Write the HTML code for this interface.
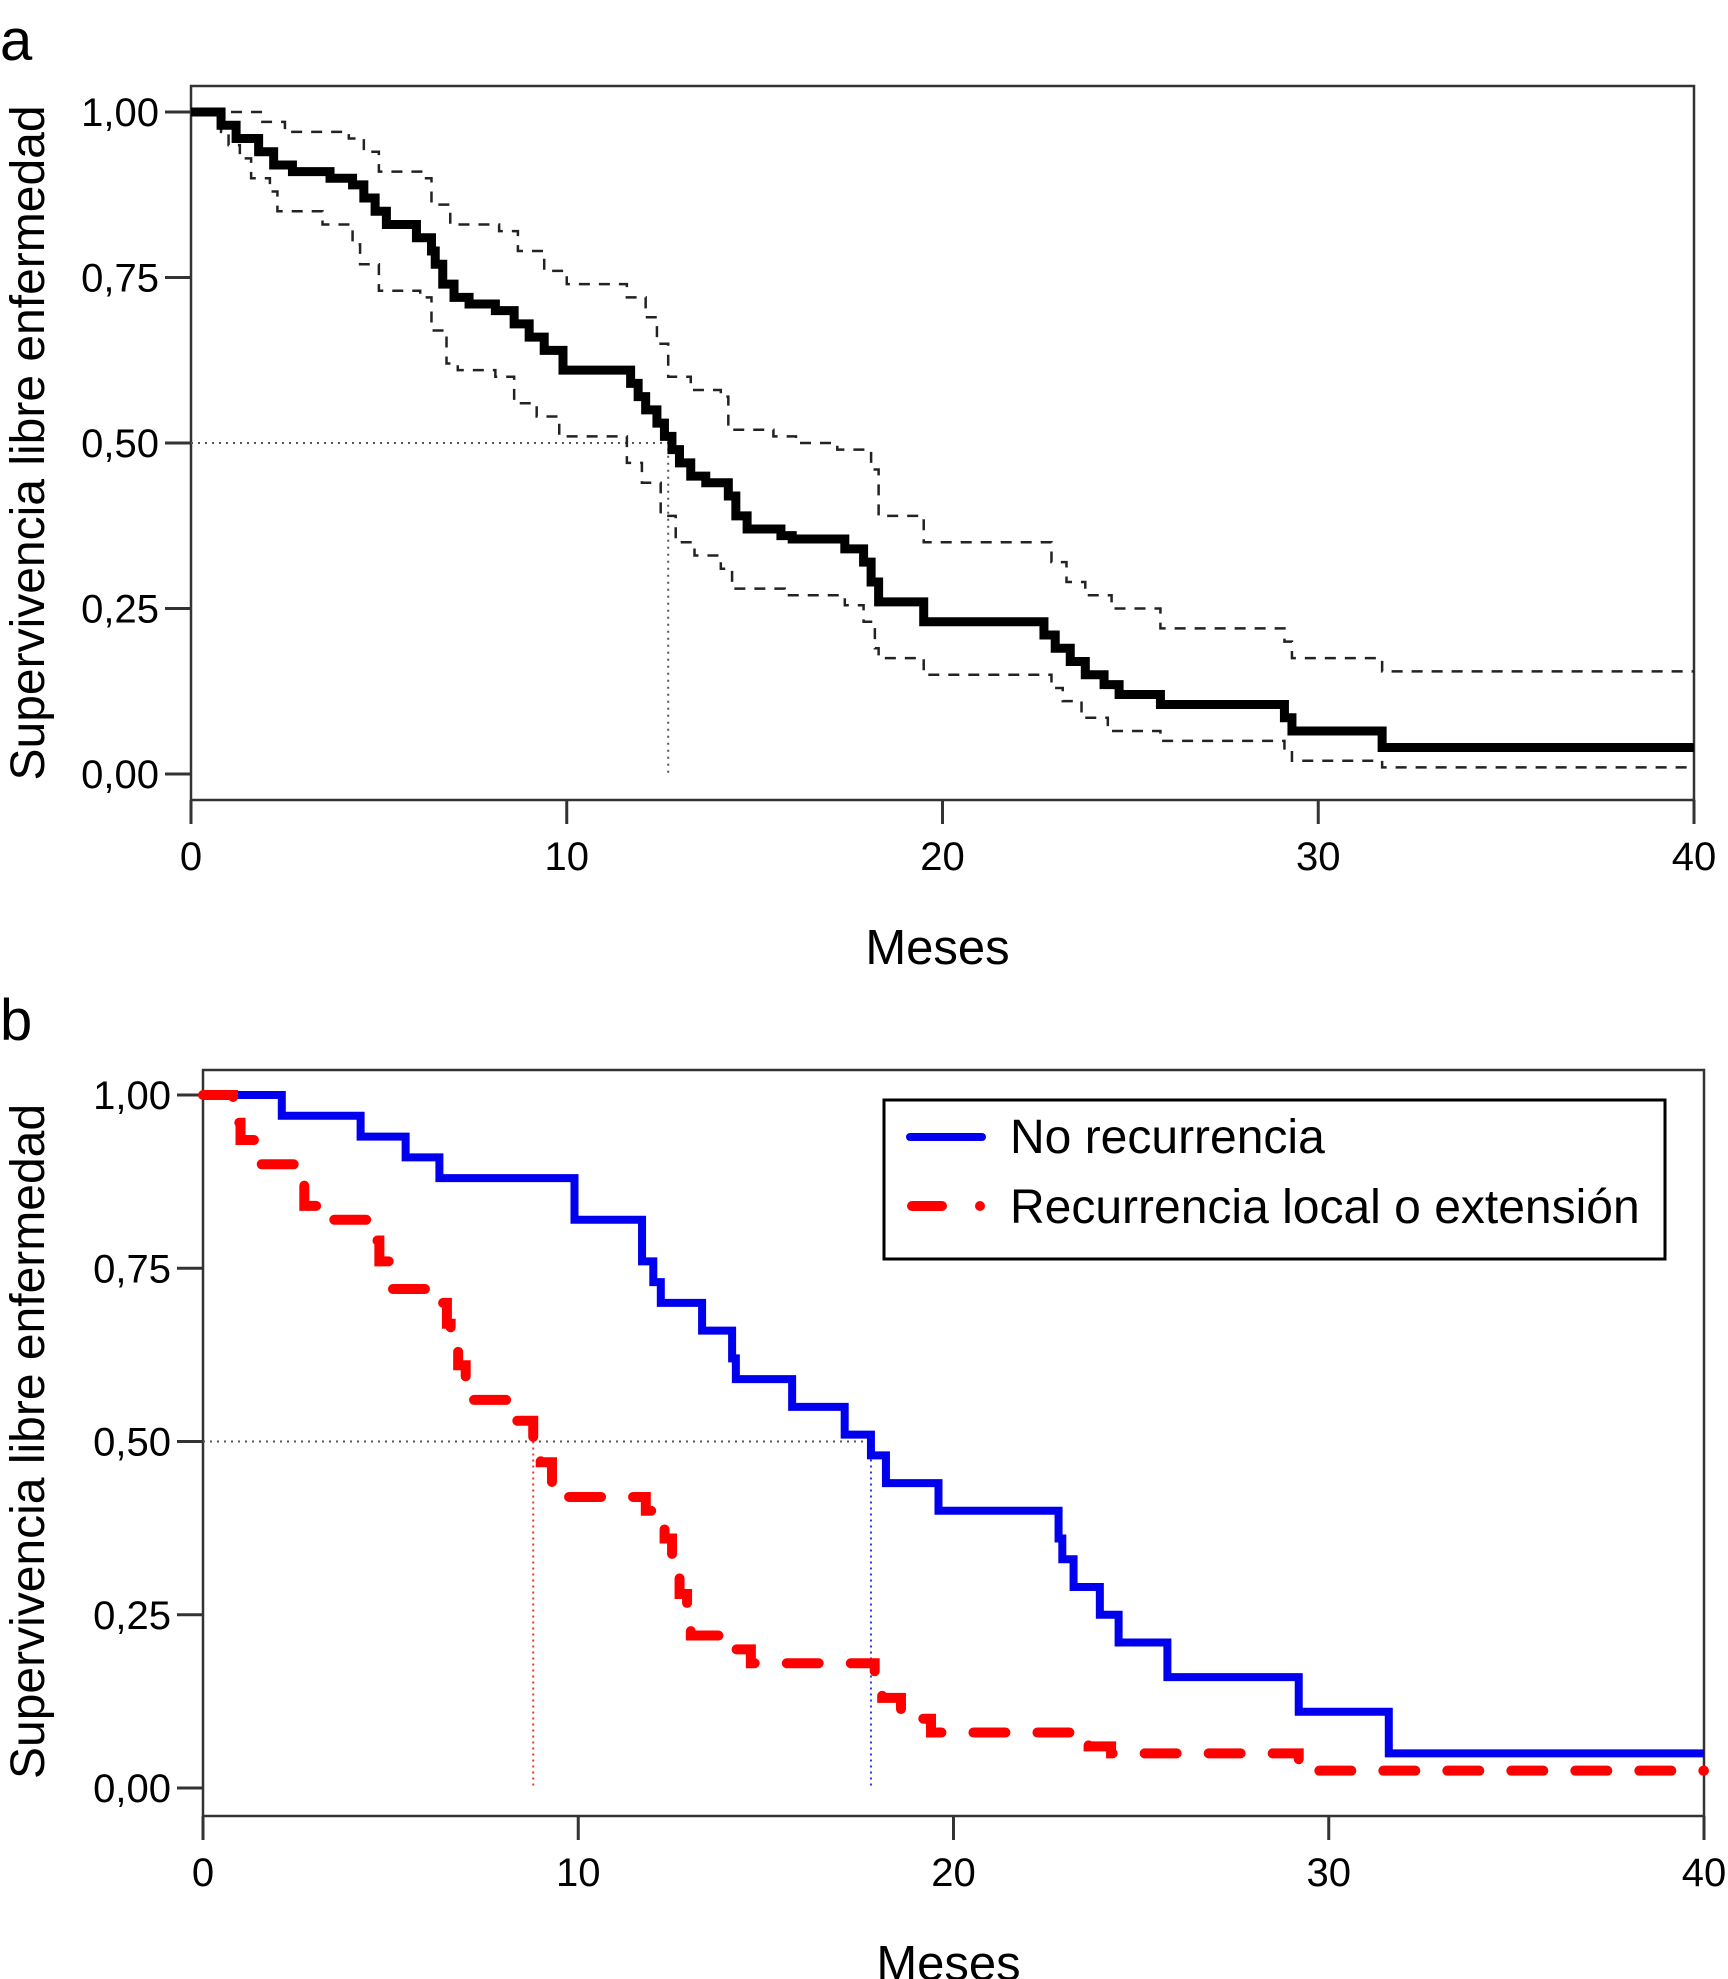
<!DOCTYPE html>
<html><head><meta charset="utf-8">
<style>
html,body{margin:0;padding:0;background:#fff;}
svg{display:block;}
text{font-family:"Liberation Sans",Arial,sans-serif;fill:#000;}
</style></head>
<body>
<svg id="fig" width="1728" height="1979" viewBox="0 0 1728 1979" xmlns="http://www.w3.org/2000/svg">
<text x="0" y="60" font-size="58">a</text>
<text x="0" y="1040" font-size="58">b</text>
<g id="pa"></g>
<g id="pb"></g>
</svg>
<script>
const xTicks = [0, 10, 20, 30, 40];
const yTicks = [0, 0.25, 0.5, 0.75, 1];
const yTickLabels = ["0,00", "0,25", "0,50", "0,75", "1,00"];

// Panel a: [month, survival] steps
const aMainT = [0,0.8,1.2,1.8,2.2,2.7,3.7,4.3,4.6,4.9,5.2,6.0,6.4,6.5,6.7,7.0,7.4,8.1,8.6,9.0,9.4,9.9,11.7,11.9,12.1,12.4,12.6,12.8,13.0,13.3,13.7,14.3,14.5,14.8,15.7,16.0,17.4,17.9,18.1,18.3,19.5,22.7,23.0,23.4,23.8,24.3,24.7,25.8,29.1,29.3,31.7];
const aMainS = [1,0.98,0.96,0.94,0.92,0.91,0.90,0.89,0.87,0.85,0.83,0.81,0.79,0.77,0.74,0.72,0.71,0.70,0.68,0.66,0.64,0.61,0.59,0.57,0.55,0.53,0.51,0.49,0.47,0.45,0.44,0.42,0.39,0.37,0.36,0.355,0.34,0.32,0.29,0.26,0.23,0.21,0.19,0.17,0.15,0.135,0.12,0.105,0.085,0.065,0.04];
const aUpT = [0,1.9,2.5,4.2,4.6,5.0,6.2,6.4,6.9,8.2,8.7,9.4,10.0,11.6,12.1,12.4,12.7,13.3,14.1,14.3,15.5,16.1,17.2,18.1,18.3,19.5,22.9,23.3,23.8,24.5,25.8,29.1,29.3,31.7];
const aUpS = [1,0.985,0.97,0.96,0.94,0.91,0.90,0.86,0.83,0.82,0.79,0.76,0.74,0.72,0.69,0.65,0.60,0.58,0.57,0.52,0.51,0.50,0.49,0.46,0.39,0.35,0.32,0.29,0.27,0.25,0.22,0.20,0.175,0.155];
const aLoT = [0,0.8,1.0,1.3,1.6,2.1,2.3,3.5,4.3,4.5,5.0,6.1,6.4,6.8,7.1,8.1,8.6,9.2,9.8,11.6,12.0,12.5,12.9,13.4,14.1,14.4,15.8,17.4,17.9,18.2,18.3,19.5,22.9,23.2,23.7,24.4,25.8,29.1,29.3,31.7];
const aLoS = [1,0.97,0.95,0.93,0.90,0.88,0.85,0.83,0.80,0.77,0.73,0.72,0.67,0.62,0.61,0.60,0.56,0.54,0.51,0.47,0.44,0.39,0.35,0.33,0.31,0.28,0.27,0.255,0.23,0.19,0.175,0.15,0.13,0.11,0.085,0.065,0.05,0.035,0.02,0.01];
const aMedian = 12.7;

// Panel b
const bBlueT = [0,2.1,4.2,5.4,6.3,9.9,11.7,12.0,12.2,13.3,14.1,14.2,15.7,17.1,17.8,18.2,19.6,22.8,22.9,23.2,23.9,24.4,25.7,29.2,31.6];
const bBlueS = [1,0.97,0.94,0.91,0.88,0.82,0.76,0.73,0.70,0.66,0.62,0.59,0.55,0.51,0.48,0.44,0.40,0.36,0.33,0.29,0.25,0.21,0.16,0.11,0.05];
const bRedT = [0,0.8,1.0,1.5,2.6,2.7,3.4,4.5,4.7,5.0,6.3,6.5,6.6,6.8,7.0,7.2,8.2,8.8,9.0,9.3,11.8,12.3,12.5,12.7,12.9,13.0,14.2,14.6,17.9,18.1,18.6,19.4,23.6,24.2,29.2,29.5];
const bRedS = [1,0.96,0.935,0.90,0.87,0.84,0.82,0.79,0.76,0.72,0.70,0.67,0.64,0.61,0.58,0.56,0.53,0.50,0.47,0.42,0.40,0.36,0.32,0.28,0.25,0.22,0.20,0.18,0.16,0.13,0.10,0.08,0.06,0.05,0.03,0.025];
const bMedRed = 8.8;
const bMedBlue = 17.8;

const NS = "http://www.w3.org/2000/svg";
function mk(parent, tag, attrs){const e=document.createElementNS(NS,tag);for(const k in attrs)e.setAttribute(k,attrs[k]);parent.appendChild(e);return e;}

function panel(g, cfg){
  const sx = v => cfg.x0 + (cfg.x40-cfg.x0)*v/40;
  const sy = v => cfg.y0 + (cfg.y1-cfg.y0)*v;
  const box = mk(g,'rect',{x:cfg.x0,y:cfg.top,width:cfg.x40-cfg.x0,height:cfg.bot-cfg.top,fill:'none',stroke:'#333','stroke-width':2.5});
  
  
  xTicks.forEach(t=>{
    const l=mk(g,'line',{x1:sx(t),x2:sx(t),y1:cfg.bot,y2:cfg.bot+24,stroke:'#333','stroke-width':3});
    
    
    const tx=mk(g,'text',{x:sx(t),y:cfg.bot+70,'font-size':40,'text-anchor':'middle'});
    tx.textContent=t;
    
    
  });
  yTicks.forEach((t,i)=>{
    const l=mk(g,'line',{x1:cfg.x0-26,x2:cfg.x0,y1:sy(t),y2:sy(t),stroke:'#333','stroke-width':3});
    
    
    const tx=mk(g,'text',{x:cfg.x0-32,y:sy(t)+14,'font-size':40,'text-anchor':'end'});
    tx.textContent=yTickLabels[i];
    
    
  });
  const xl=mk(g,'text',{x:(cfg.x0+cfg.x40)/2-5,y:cfg.bot+164,'font-size':49,'text-anchor':'middle'});
  xl.textContent='Meses';
  
  
  const cy=(cfg.y0+cfg.y1)/2;
  const yl=mk(g,'text',{x:0,y:0,'font-size':48,'text-anchor':'middle',transform:`translate(44,${cy}) rotate(-90)`});
  yl.textContent='Supervivencia libre enfermedad';
  
  
  return {sx,sy};
}
function stepPath(T,S,sx,sy){
  let d=`M${sx(T[0])},${sy(S[0])}`;
  for(let i=1;i<T.length;i++){d+=` H${sx(T[i])} V${sy(S[i])}`;}
  d+=` H${sx(40)}`;return d;
}

// Panel A
const ga=document.getElementById('pa');
const A=panel(ga,{x0:191,x40:1694,y0:774,y1:112,top:86,bot:800});
const am=mk(ga,'path',{d:`M${A.sx(0)},${A.sy(0.5)} H${A.sx(aMedian)} V${A.sy(0)}`,fill:'none',stroke:'#555','stroke-width':2,'stroke-dasharray':'2 5'});


const au=mk(ga,'path',{d:stepPath(aUpT,aUpS,A.sx,A.sy),fill:'none',stroke:'#222','stroke-width':2.5,'stroke-dasharray':'11 9'});


const al=mk(ga,'path',{d:stepPath(aLoT,aLoS,A.sx,A.sy),fill:'none',stroke:'#222','stroke-width':2.5,'stroke-dasharray':'11 9'});


const amain=mk(ga,'path',{d:stepPath(aMainT,aMainS,A.sx,A.sy),fill:'none',stroke:'#000','stroke-width':9});



// Panel B
const gb=document.getElementById('pb');
const B=panel(gb,{x0:203,x40:1704,y0:1788,y1:1095,top:1070,bot:1816});
const bh=mk(gb,'path',{d:`M${B.sx(0)},${B.sy(0.5)} H${B.sx(bMedBlue)}`,fill:'none',stroke:'#555','stroke-width':2,'stroke-dasharray':'2 5'});


const br=mk(gb,'path',{d:`M${B.sx(bMedRed)},${B.sy(0.5)} V${B.sy(0)}`,fill:'none',stroke:'#e33','stroke-width':2,'stroke-dasharray':'2 4'});


const bb=mk(gb,'path',{d:`M${B.sx(bMedBlue)},${B.sy(0.5)} V${B.sy(0)}`,fill:'none',stroke:'#33e','stroke-width':2,'stroke-dasharray':'2 4'});


const blue=mk(gb,'path',{d:stepPath(bBlueT,bBlueS,B.sx,B.sy),fill:'none',stroke:'#0000ee','stroke-width':8});


const red=mk(gb,'path',{d:stepPath(bRedT,bRedS,B.sx,B.sy),fill:'none',stroke:'#f00','stroke-width':10,'stroke-dasharray':'32 32','stroke-linecap':'round'});



// Legend
const lg=mk(gb,'g',{});


mk(lg,'rect',{x:884,y:1100,width:781,height:159,fill:'#fff',stroke:'#000','stroke-width':3});
const l1=mk(lg,'line',{x1:910,x2:982,y1:1137,y2:1137,stroke:'#0000ee','stroke-width':8,'stroke-linecap':'round'});


const t1=mk(lg,'text',{x:1010,y:1153,'font-size':48});
t1.textContent='No recurrencia';


const l2=mk(lg,'line',{x1:912,x2:942,y1:1206,y2:1206,stroke:'#f00','stroke-width':10,'stroke-linecap':'round'});


const l3=mk(lg,'circle',{cx:980,cy:1206,r:5,fill:'#f00'});


const t2=mk(lg,'text',{x:1010,y:1223,'font-size':48});
t2.textContent='Recurrencia local o extensión';


</script>
</body></html>
